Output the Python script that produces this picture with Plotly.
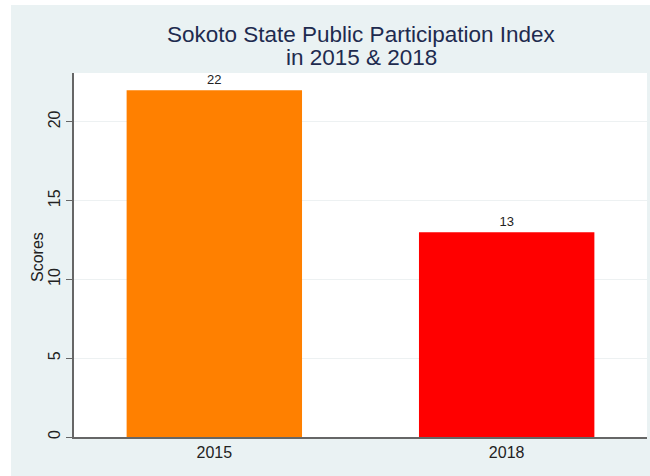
import plotly.graph_objects as go

years = ["2015", "2018"]
scores = [22, 13]
colors = ["#FF8000", "#FF0000"]
title_lines = ["Sokoto State Public Participation Index", "in 2015 & 2018"]
y_title = "Scores"

W, H = 650, 476
L, R, T, B = 74, 3, 73, 39
pw, ph = W - L - R, H - T - B

def px_x(p):
    return (p - L) / pw

def px_y(p):
    return (H - B - p) / ph

fig = go.Figure()
fig.add_trace(go.Bar(
    x=years, y=scores, marker=dict(color=colors, line=dict(width=0)),
    width=0.6, text=[str(s) for s in scores], textposition="outside",
    textfont=dict(size=13, color="#222222", family="Liberation Sans, Arial"),
    cliponaxis=False, showlegend=False,
))

title_font = dict(size=22.5, color="#1E2B4F", family="Liberation Sans, Arial")
annotations = [
    dict(text=title_lines[0], x=px_x(361), y=px_y(35), xref="paper", yref="paper",
         xanchor="center", yanchor="middle", showarrow=False, font=title_font),
    dict(text=title_lines[1], x=px_x(361), y=px_y(58), xref="paper", yref="paper",
         xanchor="center", yanchor="middle", showarrow=False, font=title_font),
    dict(text=y_title, x=px_x(37), y=px_y(257), xref="paper", yref="paper",
         xanchor="center", yanchor="middle", textangle=-90, showarrow=False,
         font=dict(size=16, color="#222222", family="Liberation Sans, Arial")),
]

fig.update_layout(
    width=W, height=H,
    margin=dict(l=L, r=R, t=T, b=B),
    paper_bgcolor="#EAF2F3",
    plot_bgcolor="#FFFFFF",
    font=dict(family="Liberation Sans, Arial", color="#222222"),
    annotations=annotations,
    xaxis=dict(type="category", range=[-0.48, 1.48], showline=True, linecolor="#666666",
               linewidth=1.5, ticks="", tickfont=dict(size=16, color="#222222"), showgrid=False,
               zeroline=False),
    yaxis=dict(range=[0, 23.1], tickvals=[0, 5, 10, 15, 20], showline=True, linecolor="#666666",
               linewidth=1.5, ticks="outside", ticklen=6, tickcolor="#666666", tickangle=-90,
               tickfont=dict(size=16, color="#222222"), showgrid=True, gridcolor="#EDF1F2",
               gridwidth=1, zeroline=False),
    shapes=[
        dict(type="rect", xref="paper", yref="paper", x0=px_x(0), x1=px_x(11), y0=px_y(H), y1=px_y(0),
             fillcolor="#FFFFFF", line=dict(width=0), layer="above"),
        dict(type="rect", xref="paper", yref="paper", x0=px_x(0), x1=px_x(W), y0=px_y(5), y1=px_y(0),
             fillcolor="#FFFFFF", line=dict(width=0), layer="above"),
    ],
)

fig.write_html("out.html")
